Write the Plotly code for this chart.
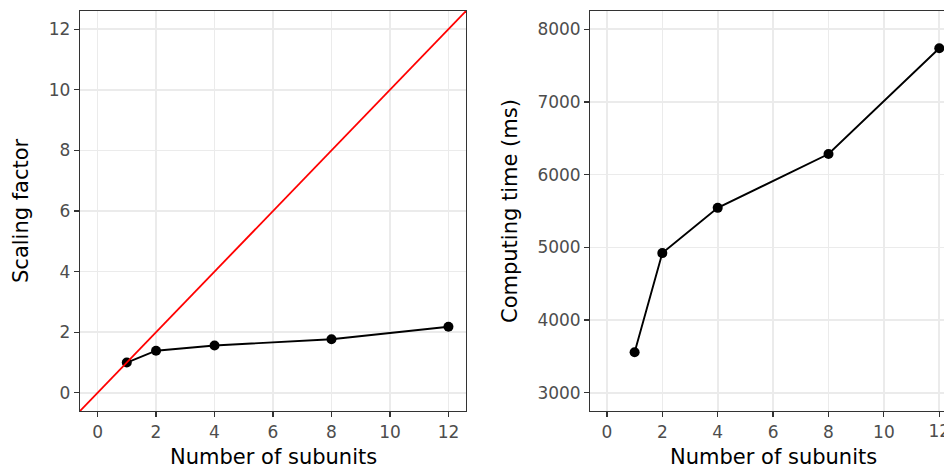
import plotly.graph_objects as go

# ---- data ----
subunits = [1, 2, 4, 8, 12]
scaling_factor = [1.00, 1.39, 1.56, 1.77, 2.18]
computing_time_ms = [3557, 4921, 5543, 6283, 7738]

x_limits = [0, 12]
y1_limits = [0, 12]
y2_limits = [3000, 8000]
x_ticks = [0, 2, 4, 6, 8, 10, 12]
x_ticklabels = ["0", "2", "4", "6", "8", "10", "12"]
y1_ticks = [0, 2, 4, 6, 8, 10, 12]
y2_ticks = [3000, 4000, 5000, 6000, 7000, 8000]

x_title = "Number of subunits"
y1_title = "Scaling factor"
y2_title = "Computing time (ms)"


def expand(lim, f=0.05):
    d = (lim[1] - lim[0]) * f
    return [lim[0] - d, lim[1] + d]


W, H = 944, 469
FONT = "DejaVu Sans, Verdana, sans-serif"
TICK_COLOR = "#4D4D4D"
LINE_COLOR = "#333333"
GRID = "#EBEBEB"
TICK_SIZE = 17

xr1 = expand(x_limits)
yr1 = expand(y1_limits)
xr2_full = expand(x_limits)
yr2 = expand(y2_limits)

# panel pixel geometry
p1_left, p1_right = 80, 466
p_top, p_bot = 11, 411
p2_left = 590.3
p2_width_full = 365.6  # panel extends past the right edge of the image
px_per_unit2 = p2_width_full / (xr2_full[1] - xr2_full[0])
xr2 = [xr2_full[0], xr2_full[0] + (W - p2_left) / px_per_unit2]

# right panel: tick labels that fit inside the picture are drawn by the axis,
# the last one (cut by the picture edge) is drawn as a clipped text mark
fits = [x <= xr2[1] - 0.5 for x in x_ticks]
x2_ticktext = [t if f else "" for t, f in zip(x_ticklabels, fits)]
cut_x = [x for x, f in zip(x_ticks, fits) if not f]
cut_t = [t for t, f in zip(x_ticklabels, fits) if not f]

fig = go.Figure()

fig.add_trace(go.Scatter(
    x=subunits, y=scaling_factor, mode="lines+markers",
    line=dict(color="black", width=1.9),
    marker=dict(color="black", size=10),
    xaxis="x", yaxis="y", showlegend=False, cliponaxis=True,
))
# identity line y = x across the panel
fig.add_trace(go.Scatter(
    x=xr1, y=xr1, mode="lines",
    line=dict(color="#FF0000", width=1.8),
    xaxis="x", yaxis="y", showlegend=False,
))
fig.add_trace(go.Scatter(
    x=subunits, y=computing_time_ms, mode="lines+markers",
    line=dict(color="black", width=1.9),
    marker=dict(color="black", size=10),
    xaxis="x2", yaxis="y2", showlegend=False, cliponaxis=False,
))
fig.add_trace(go.Scatter(
    x=cut_x, y=[0.5] * len(cut_x), mode="text", text=cut_t,
    textposition="middle center",
    textfont=dict(family=FONT, size=TICK_SIZE, color=TICK_COLOR),
    xaxis="x3", yaxis="y3", showlegend=False, cliponaxis=True,
))

axis_common = dict(
    showgrid=True, gridcolor=GRID, gridwidth=1.6,
    zeroline=False, showline=True, linecolor=LINE_COLOR, linewidth=1.2,
    ticks="outside", ticklen=5, tickcolor=LINE_COLOR, tickwidth=1.2,
    tickfont=dict(family=FONT, size=TICK_SIZE, color=TICK_COLOR),
)

ydom = [1 - p_bot / H, 1 - p_top / H]

fig.update_layout(
    width=W, height=H,
    margin=dict(l=0, r=0, t=0, b=0),
    paper_bgcolor="white", plot_bgcolor="white",
    font=dict(family=FONT),
    hovermode=False,
    xaxis=dict(domain=[p1_left / W, p1_right / W], range=xr1, tickvals=x_ticks,
               ticktext=x_ticklabels, mirror=True, anchor="y", **axis_common),
    yaxis=dict(domain=ydom, range=yr1, tickvals=y1_ticks,
               mirror=True, anchor="x", **axis_common),
    xaxis2=dict(domain=[p2_left / W, 1], range=xr2, tickvals=x_ticks,
                ticktext=x2_ticktext, mirror=True, anchor="y2", **axis_common),
    yaxis2=dict(domain=ydom, range=yr2, tickvals=y2_ticks,
                mirror=False, anchor="x2", **axis_common),
    xaxis3=dict(domain=[p2_left / W, 1], range=xr2, visible=False, anchor="y3"),
    yaxis3=dict(domain=[1 - 446 / H, 1 - 420 / H], range=[0, 1], visible=False,
                anchor="x3"),
)

title_font = dict(family=FONT, size=21, color="black")
fig.add_annotation(text=x_title, xref="paper", yref="paper",
                   x=(p1_left + p1_right) / 2 / W, y=1 - 457 / H,
                   xanchor="center", yanchor="middle", showarrow=False, font=title_font)
fig.add_annotation(text=x_title, xref="paper", yref="paper",
                   x=(p2_left + p2_width_full / 2) / W, y=1 - 457 / H,
                   xanchor="center", yanchor="middle", showarrow=False, font=title_font)
fig.add_annotation(text=y1_title, xref="paper", yref="paper",
                   x=21 / W, y=1 - 211 / H, textangle=-90,
                   xanchor="center", yanchor="middle", showarrow=False, font=title_font)
fig.add_annotation(text=y2_title, xref="paper", yref="paper",
                   x=510 / W, y=1 - 211 / H, textangle=-90,
                   xanchor="center", yanchor="middle", showarrow=False, font=title_font)

post_js = (
    "document.documentElement.style.overflow='hidden';"
    "document.body.style.margin='0px';"
    "document.body.style.overflow='hidden';"
)

fig.write_html(
    "out.html",
    config={"displayModeBar": False, "staticPlot": True},
    post_script=post_js,
)
